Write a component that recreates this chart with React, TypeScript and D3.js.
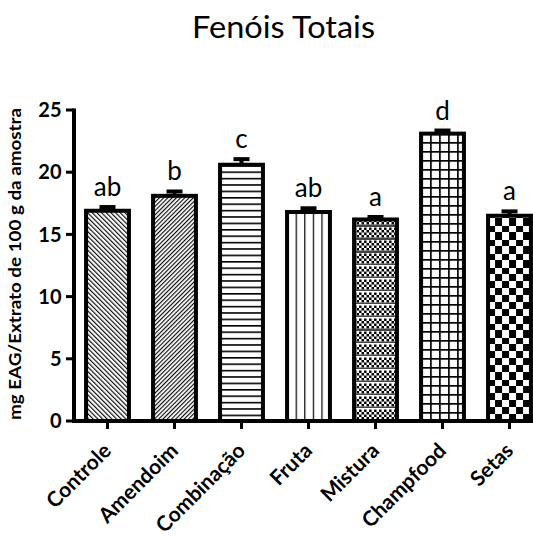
import React from "react";
import * as d3 from "d3";

// Total phenolic content per treatment (mean ± SEM)
const categories = ["Controle", "Amendoim", "Combinação", "Fruta", "Mistura", "Champfood", "Setas"];
const means = [16.9, 18.1, 20.6, 16.8, 16.2, 23.1, 16.5];
const sems = [0.3, 0.35, 0.45, 0.3, 0.2, 0.25, 0.35];
const letters = ["ab", "b", "c", "ab", "a", "d", "a"];
const yTicks = [0, 5, 10, 15, 20, 25];

const W = 533;
const H = 536;
const FONT = "Lato, 'Open Sans', sans-serif";

export default function App() {
  const x = d3
    .scaleBand<string>()
    .domain(categories)
    .range([74, 543])
    .paddingInner(0.36)
    .paddingOuter(0.18);
  const y = d3.scaleLinear().domain([0, 25]).range([421, 110]);
  const bw = x.bandwidth();
  const y0 = y(0);

  const patternFor = (i: number, bx: number, by: number) => {
    const id = `pat${i}`;
    switch (i) {
      case 0: // back-slash hatch
        return (
          <pattern key={id} id={id} patternUnits="userSpaceOnUse" width={3.3} height={3.3} patternTransform="rotate(-45)">
            <rect width={3.3} height={3.3} fill="#fff" />
            <line x1={0.6} y1={0} x2={0.6} y2={3.3} stroke="#000" strokeWidth={1.1} />
          </pattern>
        );
      case 1: // forward-slash hatch
        return (
          <pattern key={id} id={id} patternUnits="userSpaceOnUse" width={3.0} height={3.0} patternTransform="rotate(45)">
            <rect width={3.0} height={3.0} fill="#fff" />
            <line x1={0.6} y1={0} x2={0.6} y2={3.0} stroke="#000" strokeWidth={1.1} />
          </pattern>
        );
      case 2: // horizontal lines
        return (
          <pattern key={id} id={id} patternUnits="userSpaceOnUse" x={bx} y={y0} width={10} height={6.4}>
            <rect width={10} height={6.4} fill="#fff" />
            <line x1={0} y1={0} x2={10} y2={0} stroke="#000" strokeWidth={3.2} />
          </pattern>
        );
      case 3: {
        // vertical lines
        const s = bw / 5;
        return (
          <pattern key={id} id={id} patternUnits="userSpaceOnUse" x={bx} y={0} width={s} height={10}>
            <rect width={s} height={10} fill="#fff" />
            <line x1={0} y1={0} x2={0} y2={10} stroke="#000" strokeWidth={2.4} />
          </pattern>
        );
      }
      case 4: {
        // fine checker with thin light bands
        const c = 2.5;
        const h = 13;
        const cells: JSX.Element[] = [];
        for (let r = 0; r < 4; r++) {
          for (let k = 0; k < 2; k++) {
            if ((r + k) % 2 === 0) cells.push(<rect key={`${r}-${k}`} x={k * c} y={1.5 + r * c} width={c} height={c} fill="#000" />);
          }
        }
        return (
          <pattern key={id} id={id} patternUnits="userSpaceOnUse" x={bx} y={y0} width={2 * c} height={h}>
            <rect width={2 * c} height={h} fill="#fff" />
            {cells}
            <rect x={0} y={11.5} width={2 * c} height={1.5} fill="#444" />
          </pattern>
        );
      }
      case 5: {
        // grid
        const s = 9;
        return (
          <pattern key={id} id={id} patternUnits="userSpaceOnUse" x={bx} y={y0} width={s} height={s}>
            <rect width={s} height={s} fill="#fff" />
            <line x1={0} y1={0} x2={0} y2={s} stroke="#000" strokeWidth={3.4} />
            <line x1={0} y1={0} x2={s} y2={0} stroke="#000" strokeWidth={3.4} />
          </pattern>
        );
      }
      default: {
        // coarse checker
        const c = 7;
        return (
          <pattern key={id} id={id} patternUnits="userSpaceOnUse" x={bx} y={y0} width={2 * c} height={2 * c}>
            <rect width={2 * c} height={2 * c} fill="#fff" />
            <rect x={0} y={0} width={c} height={c} fill="#000" />
            <rect x={c} y={c} width={c} height={c} fill="#000" />
          </pattern>
        );
      }
    }
  };

  return (
    <svg
      width={W}
      height={H}
      viewBox={`0 0 ${W} ${H}`}
      style={{ position: "absolute", left: 0, top: 0, display: "block", background: "#fff" }}
    >
      <defs>{categories.map((c, i) => patternFor(i, x(c)!, y(means[i])))}</defs>
      <rect width={W} height={H} fill="#fff" />

      <text x={283.5} y={38} textAnchor="middle" fontFamily={FONT} fontSize={31} textLength={183} lengthAdjust="spacingAndGlyphs">
        Fenóis Totais
      </text>

      {/* bars */}
      {categories.map((c, i) => (
        <rect
          key={c}
          x={x(c)}
          y={y(means[i])}
          width={bw}
          height={y0 - y(means[i])}
          fill={`url(#pat${i})`}
          stroke="#000"
          strokeWidth={4}
        />
      ))}

      {/* upper error bars */}
      {categories.map((c, i) => {
        const cx = x(c)! + bw / 2;
        const top = y(means[i] + sems[i]);
        return (
          <g key={`e-${c}`} stroke="#000" strokeWidth={4}>
            <line x1={cx} x2={cx} y1={y(means[i])} y2={top} />
            <line x1={cx - 8} x2={cx + 8} y1={top} y2={top} />
          </g>
        );
      })}

      {/* significance letters */}
      {categories.map((c, i) => (
        <text
          key={`l-${c}`}
          x={x(c)! + bw / 2}
          y={y(means[i] + sems[i]) - 11}
          textAnchor="middle"
          fontFamily={FONT}
          fontSize={26}
        >
          {letters[i]}
        </text>
      ))}

      {/* y axis */}
      <line x1={74} x2={74} y1={y(25) - 1.5} y2={y0 + 2} stroke="#000" strokeWidth={4} />
      {yTicks.map((t) => (
        <g key={`yt-${t}`}>
          <line x1={66} x2={74} y1={y(t)} y2={y(t)} stroke="#000" strokeWidth={3} />
          <text x={61.5} y={y(t)} dy="0.36em" textAnchor="end" fontFamily={FONT} fontWeight="bold" fontSize={20}>
            {t}
          </text>
        </g>
      ))}
      <text
        transform={`translate(21, 264) rotate(-90)`}
        textAnchor="middle"
        fontFamily={FONT}
        fontWeight="bold"
        fontSize={17}
        textLength={312}
        lengthAdjust="spacingAndGlyphs"
      >
        mg EAG/Extrato de 100 g da amostra
      </text>

      {/* x axis */}
      <line x1={72} x2={W} y1={y0} y2={y0} stroke="#000" strokeWidth={4} />
      {categories.map((c) => {
        const cx = x(c)! + bw / 2;
        return (
          <g key={`xt-${c}`}>
            <line x1={cx} x2={cx} y1={y0} y2={y0 + 8} stroke="#000" strokeWidth={3} />
            <text
              transform={`translate(${cx + 5}, ${y0 + 31}) rotate(-45)`}
              textAnchor="end"
              fontFamily={FONT}
              fontWeight="bold"
              fontSize={21}
            >
              {c}
            </text>
          </g>
        );
      })}
    </svg>
  );
}
